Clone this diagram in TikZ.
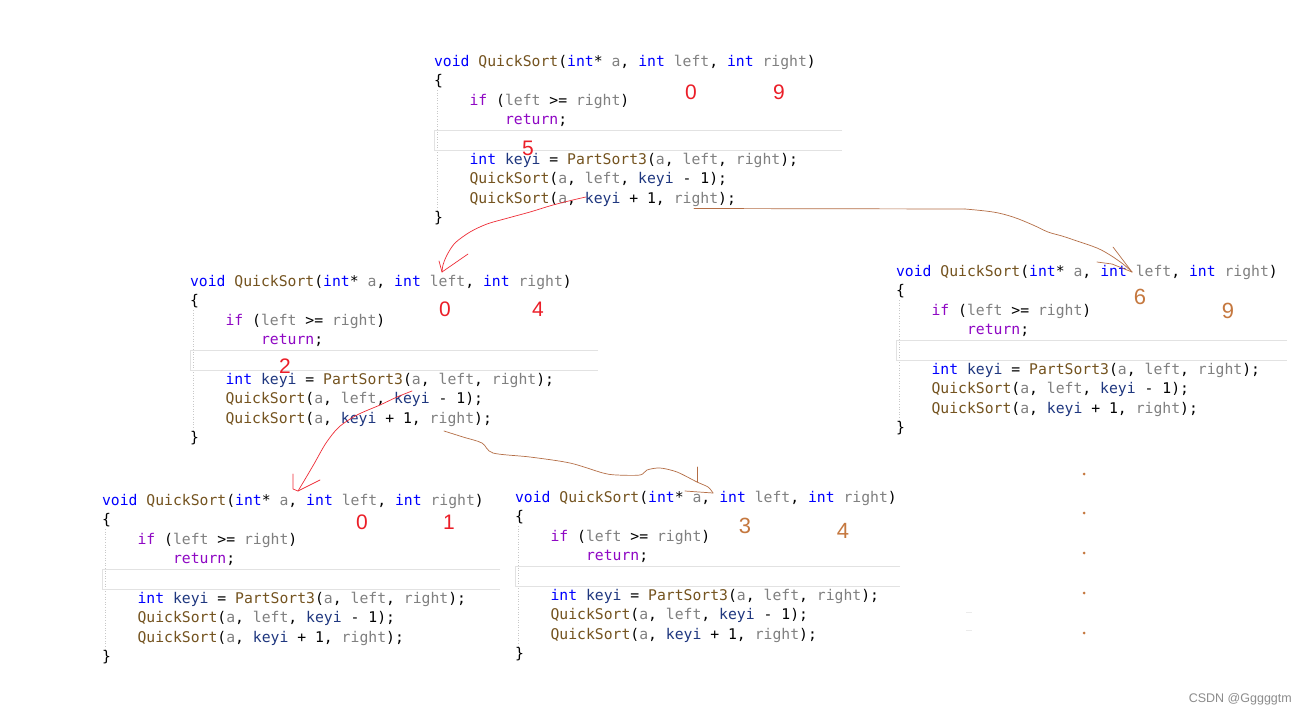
\documentclass[tikz,border=0pt]{standalone}
\usepackage{fontspec}
\newfontfamily\codefont{DejaVu Sans Mono}
\newfontfamily\numfont{Liberation Sans}
\definecolor{kwblue}{RGB}{0,0,255}
\definecolor{fnbrown}{RGB}{116,83,31}
\definecolor{pargray}{RGB}{128,128,128}
\definecolor{keyblue}{RGB}{31,55,127}
\definecolor{ctlpurple}{RGB}{143,8,196}
\definecolor{penred}{RGB}{238,45,55}
\definecolor{penbrown}{RGB}{180,110,70}
\definecolor{numred}{RGB}{235,30,40}
\definecolor{numbrown}{RGB}{197,120,63}
\definecolor{boxgray}{RGB}{226,226,226}
\definecolor{guidegray}{RGB}{200,200,200}
\definecolor{wmgray}{RGB}{140,140,140}
\newcommand\kw[1]{\textcolor{kwblue}{#1}}
\newcommand\fn[1]{\textcolor{fnbrown}{#1}}
\newcommand\pr[1]{\textcolor{pargray}{#1}}
\newcommand\kv[1]{\textcolor{keyblue}{#1}}
\newcommand\ctl[1]{\textcolor{ctlpurple}{#1}}
\newcommand\qsblock[4]{%
  \draw[guide] (#2+3,#3+24) -- (#2+3,#3+146);
  \draw[blankbox] (#4,#3+64) -- (#2,#3+64) -- (#2,#3+84) -- (#4,#3+84);
  \node[code] (#1l0) at (#2,#3) {\kw{void} \fn{QuickSort}(\kw{int}* \pr{a}, \kw{int} \pr{left}, \kw{int} \pr{right})};
  \node[code] (#1l1) at (#2,#3+19.6) {\{};
  \node[code] (#1l2) at (#2+35.5,#3+39.2) {\ctl{if} (\pr{left} >= \pr{right})};
  \node[code] (#1l3) at (#2+71,#3+58.8) {\ctl{return};};
  \node[code] (#1l5) at (#2+35.5,#3+98) {\kw{int} \kv{keyi} = \fn{PartSort3}(\pr{a}, \pr{left}, \pr{right});};
  \node[code] (#1l6) at (#2+35.5,#3+117.6) {\fn{QuickSort}(\pr{a}, \pr{left}, \kv{keyi} - 1);};
  \node[code] (#1l7) at (#2+35.5,#3+137.2) {\fn{QuickSort}(\pr{a}, \kv{keyi} + 1, \pr{right});};
  \node[code] (#1l8) at (#2,#3+156.8) {\}};
}
\begin{document}
\begin{tikzpicture}[x=1pt,y=-1pt,
  code/.style={anchor=base west, inner sep=0pt, outer sep=0pt, font=\codefont\fontsize{14.75}{18}\selectfont\frenchspacing},
  guide/.style={guidegray, dotted, line width=0.6pt},
  blankbox/.style={boxgray, line width=0.8pt},
  rednum/.style={inner sep=0pt, text=numred, font=\numfont\fontsize{21}{24}\selectfont},
  brownnum/.style={inner sep=0pt, text=numbrown, font=\numfont\fontsize{22}{25}\selectfont},
  redpen/.style={penred, line width=0.7pt, line cap=round, line join=round},
  brownpen/.style={penbrown, line width=0.7pt, line cap=round, line join=round},
  dotmark/.style={circle, fill=numbrown, inner sep=0pt, minimum size=3pt},
  faint/.style={draw=black!8, line width=1pt},
  wm/.style={inner sep=0pt, text=wmgray, font=\numfont\fontsize{12.5}{14}\selectfont}]
\fill[white] (0,0) rectangle (1306,716);
\useasboundingbox (0,0) rectangle (1306,716);

% code blocks
\qsblock{A}{434}{66}{842}
\qsblock{B}{190}{286}{598}
\qsblock{C}{896}{276}{1287}
\qsblock{D}{102}{505}{500}
\qsblock{E}{515}{502}{900}

% numbers
\node[rednum] (nA0) at (691,92.5) {0};
\node[rednum] (nA9) at (779,92.5) {9};
\node[rednum] (nA5) at (528,148) {5};
\node[rednum] (nB0) at (445,309) {0};
\node[rednum] (nB4) at (538,309) {4};
\node[rednum] (nB2) at (285,366) {2};
\node[brownnum] (nC6) at (1140,297) {6};
\node[brownnum] (nC9) at (1228,311) {9};
\node[rednum] (nD0) at (362,522) {0};
\node[rednum] (nD1) at (449,522) {1};
\node[brownnum] (nE3) at (745,526) {3};
\node[brownnum] (nE4) at (843,531) {4};

% red arrow 1 : top block -> left middle block
\coordinate (r1s) at (586,197);
\coordinate (r1t) at (442,272);
\draw[redpen] plot[smooth, tension=0.5] coordinates {(r1s) (577,199) (553,205) (530,212) (508,218) (487,224) (470,232) (455,243) (447,255) (443,265) (r1t)};
\draw[redpen] (439,261) -- (r1t) -- (468,254);

% brown arrow 1 : top block -> right block
\coordinate (b1s) at (694,208.5);
\coordinate (b1m) at (965,209);
\coordinate (b1t) at (1132,272);
\draw[brownpen] (b1s) -- (b1m);
\draw[brownpen] plot[smooth, tension=0.6] coordinates {(b1m) (993,212) (1013,217) (1033,225) (1048,232) (1062,236) (1077,241) (1097,248) (1110,255) (1123,264) (b1t)};
\draw[brownpen] (1113,247) -- (b1t);
\draw[brownpen] (1097,262) -- (1112,264) -- (b1t);

% red arrow 2 : middle block -> bottom-left block
\coordinate (r2s) at (412,391);
\coordinate (r2t) at (298,491);
\draw[redpen] plot[smooth, tension=0.5] coordinates {(r2s) (397,397) (380,405) (357,415) (339,427) (326,443) (314,464) (304,481) (r2t)};
\draw[redpen] (293,474) -- (293,489) -- (r2t) -- (320,480);

% brown arrow 2 : middle block -> bottom-middle block
\coordinate (b2s) at (444,431);
\coordinate (b2t) at (713,493);
\draw[brownpen] plot[smooth, tension=0.5] coordinates {(b2s) (463,437) (482,443) (493,453) (530,457) (570,463) (603,473) (617,475) (640,475) (647,470) (660,468) (677,472) (697,482) (708,487) (b2t)};
\draw[brownpen] (697,467) -- (697,482);
\draw[brownpen] (685,491) -- (b2t);

% continuation dots
\node[dotmark] (d1) at (1084,474) {};
\node[dotmark] (d2) at (1084,513) {};
\node[dotmark] (d3) at (1084,553) {};
\node[dotmark] (d4) at (1084,593) {};
\node[dotmark] (d5) at (1084,633) {};
\draw[faint] (966,612) -- (972,612);
\draw[faint] (966,630) -- (972,630);

% watermark
\node[wm, anchor=east] (wmark) at (1292,699) {CSDN @Gggggtm};
\end{tikzpicture}
\end{document}
